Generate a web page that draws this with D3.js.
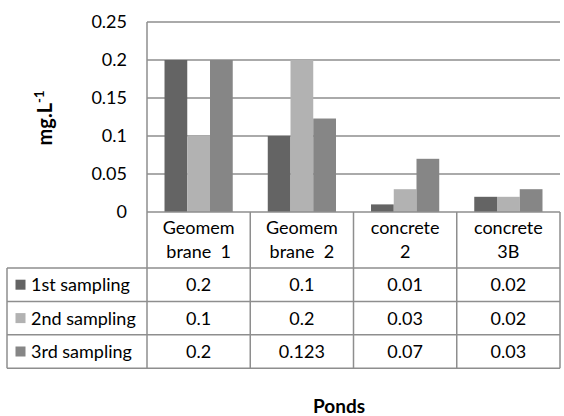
<!DOCTYPE html>
<html>
<head>
<meta charset="utf-8">
<script src="https://cdn.jsdelivr.net/npm/d3@7"></script>
<style>
  html, body { margin: 0; padding: 0; background: #fff; }
  svg { display: block; }
  text { font-family: Lato, "Open Sans", sans-serif; fill: #000; }
</style>
</head>
<body>
<svg id="chart" width="564" height="416"></svg>
<script>
// Pond labels, wrapped as in the data-table header
const categories = [["Geomem", "brane  1"], ["Geomem", "brane  2"], ["concrete", "2"], ["concrete", "3B"]];
const seriesNames = ["1st sampling", "2nd sampling", "3rd sampling"];
const sampling1 = [0.2, 0.1, 0.01, 0.02];
const sampling2 = [0.1, 0.2, 0.03, 0.02];
const sampling3 = [0.2, 0.123, 0.07, 0.03];
const yTicks = [0, 0.05, 0.1, 0.15, 0.2, 0.25];
const seriesColors = ["#646464", "#b2b2b2", "#868686"];

const seriesValues = [sampling1, sampling2, sampling3];

const svg = d3.select("#chart");
const lineColor = "#8e8e8e";
const lineW = 1.5;

// Plot frame and table geometry
const plotLeft = 147, plotRight = 560, plotTop = 22, plotBottom = 212;
const tableLeft = 7;
const headerBottom = 268;
const rowH = 33.4;
const fontSize = 18;

const x = d3.scaleBand().domain(d3.range(categories.length)).range([plotLeft, plotRight]).padding(0);
const xs = d3.scaleBand().domain(d3.range(seriesNames.length)).range([0, x.bandwidth()])
  .paddingInner(0).paddingOuter(0.77);
const y = d3.scaleLinear().domain([0, 0.25]).range([plotBottom, plotTop]);

// Horizontal gridlines
svg.append("g").selectAll("line").data(yTicks.filter(t => t > 0)).join("line")
  .attr("x1", plotLeft).attr("x2", plotRight)
  .attr("y1", d => y(d)).attr("y2", d => y(d))
  .attr("stroke", lineColor).attr("stroke-width", lineW);

// Y axis tick labels
const yAxis = d3.axisLeft(y).tickValues(yTicks).tickSize(0).tickPadding(20)
  .tickFormat(d => String(d));
const yG = svg.append("g").attr("transform", `translate(${plotLeft},0)`).call(yAxis);
yG.select(".domain").remove();
yG.selectAll("text").attr("font-size", fontSize).attr("font-family", "Lato, sans-serif").attr("fill", "#000");

// Bars
const groups = svg.append("g").selectAll("g").data(categories).join("g")
  .attr("transform", (d, i) => `translate(${x(i)},0)`);
groups.selectAll("rect").data((d, i) => seriesValues.map((vals, s) => ({ s, v: vals[i] }))).join("rect")
  .attr("x", d => xs(d.s)).attr("width", xs.bandwidth())
  .attr("y", d => y(d.v)).attr("height", d => y(0) - y(d.v))
  .attr("fill", d => seriesColors[d.s]);

// Table lines
const rowY = d3.range(seriesNames.length + 1).map(i => headerBottom + i * rowH);
const tableBottom = rowY[rowY.length - 1];
const grid = svg.append("g").attr("stroke", lineColor).attr("stroke-width", lineW);
grid.append("line").attr("x1", plotLeft).attr("x2", plotRight).attr("y1", plotBottom).attr("y2", plotBottom);
rowY.forEach(yy => grid.append("line").attr("x1", tableLeft).attr("x2", plotRight).attr("y1", yy).attr("y2", yy));
grid.append("line").attr("x1", tableLeft).attr("x2", tableLeft).attr("y1", headerBottom).attr("y2", tableBottom);
grid.append("line").attr("x1", plotLeft).attr("x2", plotLeft).attr("y1", plotTop).attr("y2", tableBottom);
d3.range(1, categories.length + 1).forEach(i => {
  const xx = plotLeft + i * x.bandwidth();
  grid.append("line").attr("x1", xx).attr("x2", xx).attr("y1", plotBottom).attr("y2", tableBottom);
});

// Header labels
const header = svg.append("g");
categories.forEach((lines, i) => {
  const t = header.append("text").attr("text-anchor", "middle").attr("font-size", fontSize)
    .style("white-space", "pre");
  lines.forEach((ln, k) => {
    t.append("tspan").attr("x", x(i) + x.bandwidth() / 2).attr("y", 234 + k * 24).text(ln);
  });
});

// Legend keys, series names and values
seriesNames.forEach((name, s) => {
  const cy = rowY[s] + rowH / 2;
  svg.append("rect").attr("x", 15.5).attr("y", cy - 5).attr("width", 10).attr("height", 10)
    .attr("fill", seriesColors[s]);
  svg.append("text").attr("x", 31).attr("y", cy + 6.5).attr("font-size", fontSize).text(name);
  seriesValues[s].forEach((v, i) => {
    svg.append("text").attr("x", x(i) + x.bandwidth() / 2).attr("y", cy + 6.5)
      .attr("text-anchor", "middle").attr("font-size", fontSize).text(String(v));
  });
});

// Axis titles
const yTitle = svg.append("text").attr("transform", "translate(52,118) rotate(-90)")
  .attr("text-anchor", "middle").attr("font-size", 20).attr("font-weight", "bold");
yTitle.append("tspan").text("mg.L");
yTitle.append("tspan").attr("dy", -8).attr("font-size", 13).text("-1");

svg.append("text").attr("x", 339).attr("y", 413).attr("text-anchor", "middle")
  .attr("font-size", 19).attr("font-weight", "bold").text("Ponds");
</script>
</body>
</html>
